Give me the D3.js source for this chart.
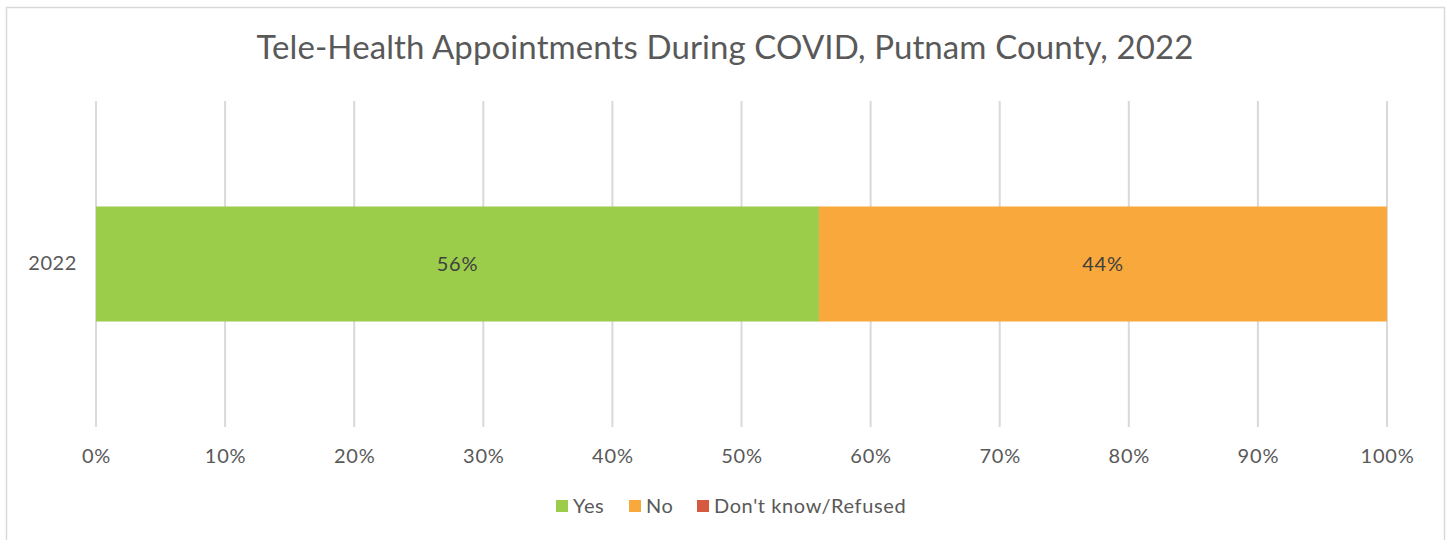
<!DOCTYPE html>
<html>
<head>
<meta charset="utf-8">
<script src="https://cdn.jsdelivr.net/npm/d3@7"></script>
<style>
  body { margin: 0; background: #fff; }
  svg text { font-family: "Century Gothic", "Lato", "Open Sans", sans-serif; fill: #595959; }
</style>
</head>
<body>
<div id="chart"></div>
<script>
// chart data
const categories = ['2022'];
const seriesNames = ['Yes', 'No', "Don't know/Refused"];
const seriesColors = ['#9bcd4b', '#f9a83b', '#d55a3f'];
const yesValues = [0.56];
const noValues = [0.44];
const dkValues = [0];
const xTicks = [0, 0.1, 0.2, 0.3, 0.4, 0.5, 0.6, 0.7, 0.8, 0.9, 1];

const width = 1452, height = 540;
const margin = { top: 101, right: 65, bottom: 113, left: 96 };

const svg = d3.select('#chart')
    .append('svg')
    .attr('width', width)
    .attr('height', height);

// outer frame
svg.append('rect')
    .attr('x', 6.5).attr('y', 7.5)
    .attr('width', 1438).attr('height', 545)
    .attr('fill', '#fff')
    .attr('stroke', '#d9d9d9')
    .attr('stroke-width', 1.5);

svg.append('text')
    .attr('x', 725).attr('y', 59)
    .attr('text-anchor', 'middle')
    .style('font-size', '33px')
    .style('letter-spacing', '0.1px')
    .text('Tele-Health Appointments During COVID, Putnam County, 2022');

const x = d3.scaleLinear()
    .domain([0, 1])
    .range([margin.left, width - margin.right]);

const y = d3.scaleBand()
    .domain(categories)
    .range([margin.top, height - margin.bottom])
    .paddingInner(0)
    .paddingOuter(0.917);

// gridlines
svg.append('g')
    .selectAll('line')
    .data(xTicks)
    .join('line')
    .attr('x1', (d) => x(d)).attr('x2', (d) => x(d))
    .attr('y1', margin.top).attr('y2', height - margin.bottom)
    .attr('stroke', '#d9d9d9')
    .attr('stroke-width', 2);

// stack the series
const rows = categories.map((c, i) => ({ cat: c, Yes: yesValues[i], No: noValues[i], "Don't know/Refused": dkValues[i] }));
const stack = d3.stack().keys(seriesNames)(rows);

stack.forEach((layer, li) => {
  svg.append('g')
      .selectAll('rect')
      .data(layer)
      .join('rect')
      .attr('x', (d) => x(d[0]))
      .attr('y', (d) => y(d.data.cat))
      .attr('width', (d) => x(d[1]) - x(d[0]))
      .attr('height', y.bandwidth())
      .attr('fill', seriesColors[li]);

  svg.append('g')
      .selectAll('text')
      .data(layer.filter((d) => d[1] - d[0] > 0))
      .join('text')
      .attr('x', (d) => (x(d[0]) + x(d[1])) / 2)
      .attr('y', (d) => y(d.data.cat) + y.bandwidth() / 2 + 7)
      .attr('text-anchor', 'middle')
      .style('font-size', '20px')
      .style('letter-spacing', '0.8px')
      .style('fill', '#404040')
      .text((d) => d3.format('.0%')(d[1] - d[0]));
});

// x axis labels
const xAxis = svg.append('g')
    .attr('transform', `translate(0,${height - margin.bottom})`)
    .call(d3.axisBottom(x).tickValues(xTicks).tickFormat(d3.format('.0%')).tickSize(0).tickPadding(22));
xAxis.select('.domain').remove();
xAxis.selectAll('text').style('font-size', '20px').style('letter-spacing', '0.8px').attr('font-family', null);

// y axis labels
const yAxis = svg.append('g')
    .attr('transform', `translate(${margin.left},0)`)
    .call(d3.axisLeft(y).tickSize(0).tickPadding(19));
yAxis.select('.domain').remove();
yAxis.selectAll('text').style('font-size', '20px').style('letter-spacing', '0.6px').attr('font-family', null);

// legend
const legendX = [556, 629, 697];
const legend = svg.append('g')
    .selectAll('g')
    .data(seriesNames)
    .join('g')
    .attr('transform', (d, i) => `translate(${legendX[i]},500)`);
legend.append('rect')
    .attr('width', 12).attr('height', 12)
    .attr('fill', (d, i) => seriesColors[i]);
legend.append('text')
    .attr('x', 17).attr('y', 13)
    .style('font-size', '20px')
    .style('letter-spacing', '0.6px')
    .text((d) => d);
</script>
</body>
</html>
